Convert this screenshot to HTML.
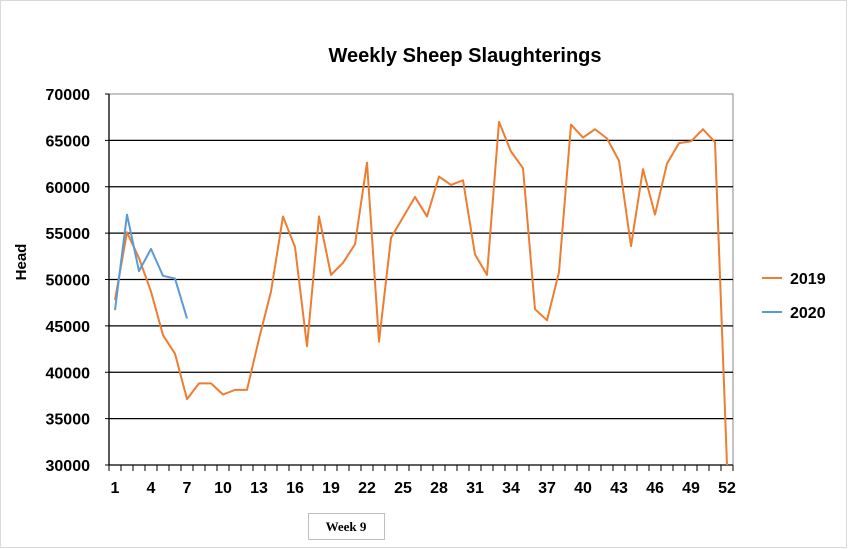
<!DOCTYPE html>
<html><head><meta charset="utf-8"><style>body{margin:0;background:#fff}svg{display:block}</style></head><body>
<svg id="chart" width="849" height="549" xmlns="http://www.w3.org/2000/svg" font-family="Liberation Sans, sans-serif">
<rect x="0.5" y="0.5" width="846" height="547" fill="#fff" stroke="#d9d9d9"/>
<text x="465" y="62" text-anchor="middle" font-size="20" font-weight="bold">Weekly Sheep Slaughterings</text>
<text transform="translate(26,262) rotate(-90)" text-anchor="middle" font-size="15" font-weight="bold">Head</text>
<g id="grid"></g><g id="axes"></g><g id="series"></g>
<g>
<line x1="762" y1="278" x2="782" y2="278" stroke="#ED7D31" stroke-width="2"/>
<text x="790" y="284" font-size="16" font-weight="bold">2019</text>
<line x1="762" y1="312" x2="782" y2="312" stroke="#5B9BD5" stroke-width="2"/>
<text x="790" y="318" font-size="16" font-weight="bold">2020</text>
</g>
<rect x="308.5" y="513.5" width="76" height="26" fill="#fff" stroke="#bfbfbf"/>
<text x="346" y="531" text-anchor="middle" font-family="Liberation Serif, serif" font-size="13" font-weight="bold">Week 9</text>
</svg>
<script>
const weeks=[];for(let i=1;i<=52;i++)weeks.push(i);
const series2019=[47800,55100,52300,48700,44000,42000,37100,38800,38800,37600,38100,38100,43600,48700,56800,53500,42800,56800,50500,51800,53800,62600,43300,54500,56700,58900,56800,61100,60200,60700,52700,50500,67000,63800,62000,46800,45600,50800,66700,65300,66200,65200,62800,53600,61900,57000,62500,64700,64900,66200,64800,30000];
const series2020=[46700,57000,50900,53300,50400,50100,45800];
const yTicks=[30000,35000,40000,45000,50000,55000,60000,65000,70000];
const xTickLabels=[1,4,7,10,13,16,19,22,25,28,31,34,37,40,43,46,49,52];
const NS="http://www.w3.org/2000/svg";
const X0=109,X1=733,Y0=465,Y1=94;
const xs=w=>X0+6+(w-1)*(X1-X0)/52;
const ys=v=>Y0-(v-30000)/40000*(Y0-Y1);
function mk(t,a,p){const e=document.createElementNS(NS,t);for(const k in a)e.setAttribute(k,a[k]);p.appendChild(e);return e;}
const grid=document.getElementById('grid'),axes=document.getElementById('axes'),ser=document.getElementById('series');
mk('rect',{x:X0,y:Y1,width:X1-X0,height:Y0-Y1,fill:'none',stroke:'#888'},grid);
yTicks.forEach(v=>{const y=ys(v);
 if(v>30000&&v<70000){const l=mk('line',{x1:X0,x2:X1,y1:y,y2:y,stroke:'#000','stroke-width':1.3},grid);
 
 }
 const tk=mk('line',{x1:X0-4,x2:X0,y1:y,y2:y,stroke:'#000'},axes);
 const t=mk('text',{x:X0-19,y:y+6,'text-anchor':'end','font-size':16,'font-weight':'bold'},axes);t.textContent=v;
 
 });
mk('line',{x1:X0,x2:X0,y1:Y1,y2:Y0,stroke:'#000','stroke-width':1.3},axes);
mk('line',{x1:X0,x2:X1,y1:Y0,y2:Y0,stroke:'#000','stroke-width':1.3},axes);
for(let i=0;i<=52;i++){const x=X0+i*(X1-X0)/52;mk('line',{x1:x,x2:x,y1:Y0,y2:Y0+6,stroke:'#000'},axes);}
xTickLabels.forEach(w=>{const t=mk('text',{x:xs(w),y:Y0+28,'text-anchor':'middle','font-size':16,'font-weight':'bold'},axes);t.textContent=w;
 
 });
function line(vals,color,name){const p=mk('polyline',{points:vals.map((v,i)=>xs(weeks[i])+','+ys(v)).join(' '),fill:'none',stroke:color,'stroke-width':2,'stroke-linejoin':'round'},ser);
 
 }
line(series2019,'#ED7D31','series-2019-line');
line(series2020,'#5B9BD5','series-2020-line');
</script>
</body></html>
